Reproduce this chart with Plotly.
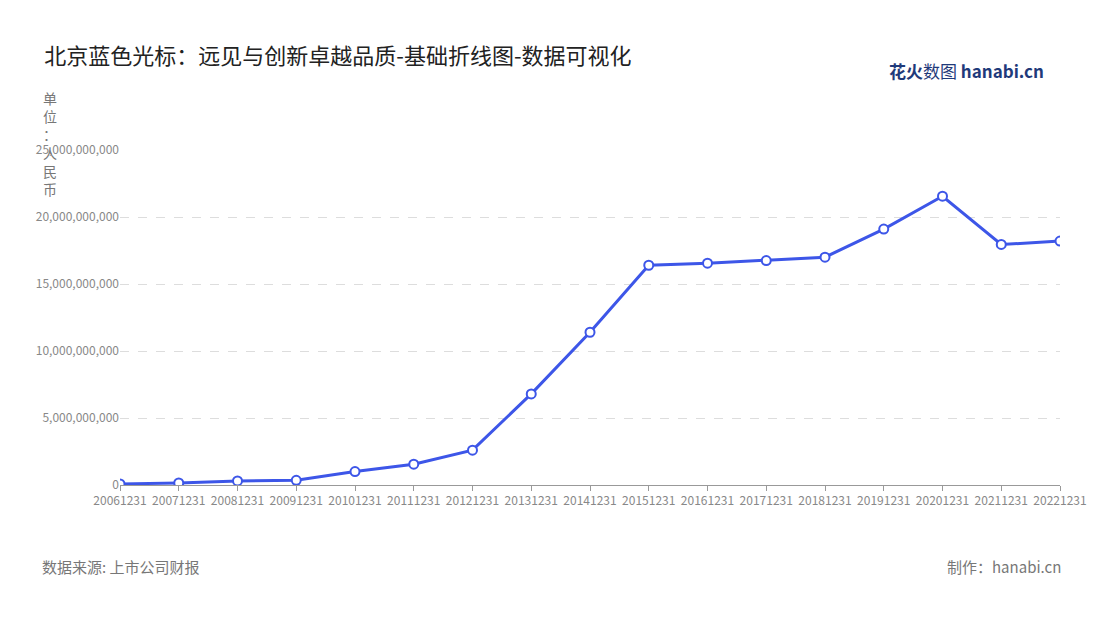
import plotly.graph_objects as go

############### DATA ###################
dates = ["20061231", "20071231", "20081231", "20091231", "20101231", "20111231",
         "20121231", "20131231", "20141231", "20151231", "20161231", "20171231",
         "20181231", "20191231", "20201231", "20211231", "20221231"]
values = [0.08e9, 0.15e9, 0.3e9, 0.35e9, 1.0e9, 1.55e9, 2.6e9, 6.8e9, 11.4e9,
          16.4e9, 16.55e9, 16.75e9, 17.0e9, 19.1e9, 21.55e9, 17.95e9, 18.2e9]
y_ticks = [0, 5e9, 10e9, 15e9, 20e9, 25e9]
########################################

font = "Noto Sans CJK SC"
blue = "#3d56e8"

fig = go.Figure(go.Scatter(
    x=dates, y=values, mode="lines+markers",
    line=dict(color=blue, width=3),
    marker=dict(size=9, color="white", line=dict(color=blue, width=2)),
))

fig.update_layout(
    width=1100, height=620,
    paper_bgcolor="white", plot_bgcolor="white",
    margin=dict(l=112, r=48, t=142, b=143),
    font=dict(family=font, color="#888"),
    showlegend=False,
    title=dict(text="北京蓝色光标：远见与创新卓越品质-基础折线图-数据可视化",
               x=0.033, y=0.935, xanchor="left",
               font=dict(size=22, color="#222", family=font)),
    xaxis=dict(type="category", range=[0, 16], showgrid=False,
               showline=True, linecolor="#999", ticks="outside", ticklen=5,
               tickcolor="#999", tickfont=dict(size=12, color="#888"), tickangle=0),
    yaxis=dict(range=[0, 25e9], tickvals=y_ticks,
               ticktext=[f"{v:,.0f}" for v in y_ticks],
               showgrid=True, gridcolor="#ddd", griddash="dash", zeroline=False,
               tickfont=dict(size=12, color="#888")),
    annotations=[
        dict(text="单<br>位<br>：<br>人<br>民<br>币", xref="paper", yref="paper",
             x=-0.075, y=1.19, xanchor="center", yanchor="top",
             showarrow=False, font=dict(size=14, color="#777")),
        dict(text="数据来源: 上市公司财报", xref="paper", yref="paper", x=-0.085, y=-0.28,
             xanchor="left", showarrow=False, font=dict(size=15, color="#777")),
        dict(text="制作：hanabi.cn", xref="paper", yref="paper", x=1.003, y=-0.28,
             xanchor="right", showarrow=False, font=dict(size=15, color="#777")),
        dict(text="<b>花火</b>数图 <b>hanabi.cn</b>", xref="paper", yref="paper", x=0.985, y=1.28,
             xanchor="right", showarrow=False, font=dict(size=17, color="#1f3a7a")),
    ],
)

fig.write_html("out.html")
